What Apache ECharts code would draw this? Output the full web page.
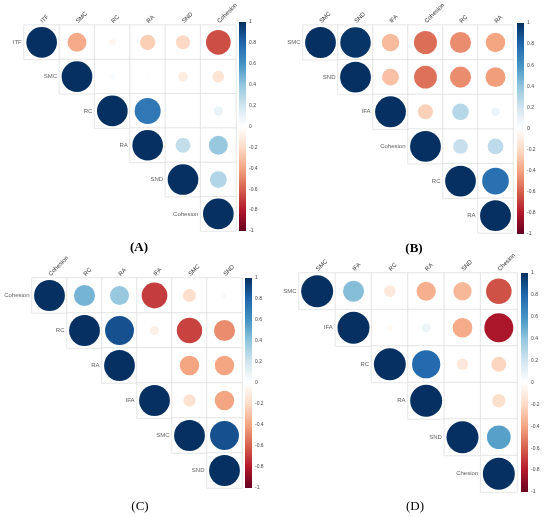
<!DOCTYPE html>
<html><head><meta charset="utf-8">
<script src="https://cdn.jsdelivr.net/npm/echarts@6/dist/echarts.min.js"></script>
<style>html,body{margin:0;padding:0;background:#fff}#c{width:550px;height:517px}</style>
</head><body><div id="c"></div>
<script>
// Variables per panel
const varsA = ['ITF', 'SMC', 'RC', 'RA', 'SND', 'Cohesion'];
const varsB = ['SMC', 'SND', 'IFA', 'Cohesion', 'RC', 'RA'];
const varsC = ['Cohesion', 'RC', 'RA', 'IFA', 'SMC', 'SND'];
const varsD = ['SMC', 'IFA', 'RC', 'RA', 'SND', 'Chesion'];

// Upper-triangle correlation rows (row i lists columns i..5)
const corrA = [
  [1, -0.38, -0.05, -0.25, -0.21, -0.65],
  [1, 0.03, -0.01, -0.10, -0.15],
  [1, 0.72, 0.0, 0.09],
  [1, 0.24, 0.38],
  [1, 0.30],
  [1]
];
const corrB = [
  [1, 0.98, -0.32, -0.56, -0.47, -0.40],
  [1, -0.30, -0.55, -0.47, -0.42],
  [1, -0.24, 0.29, 0.08],
  [1, 0.23, 0.26],
  [1, 0.75],
  [1]
];
const corrC = [
  [1, 0.47, 0.38, -0.70, -0.18, 0.03],
  [1, 0.88, -0.09, -0.68, -0.47],
  [1, 0.0, -0.40, -0.40],
  [1, -0.16, -0.40],
  [1, 0.88],
  [1]
];
const corrD = [
  [1, 0.43, -0.13, -0.36, -0.33, -0.64],
  [1, -0.04, 0.08, -0.38, -0.82],
  [1, 0.78, -0.13, -0.22],
  [1, 0.0, -0.18],
  [1, 0.55],
  [1]
];
const panelLabels = ['(A)', '(B)', '(C)', '(D)'];
const colorbarTicks = [-1, -0.8, -0.6, -0.4, -0.2, 0, 0.2, 0.4, 0.6, 0.8, 1];

const RdBu = ['#67001F', '#B2182B', '#D6604D', '#F4A582', '#FDDBC7', '#FFFFFF',
              '#D1E5F0', '#92C5DE', '#4393C3', '#2166AC', '#053061'];

// Layout (pixels)
const layout = [
  {grid: [24, 22, 212, 209], bar: [239, 22, 7, 209], label: [139, 248], bold: true},
  {grid: [303, 22, 210, 211], bar: [517, 23, 7, 211], label: [414, 249], bold: true},
  {grid: [32, 278, 210, 210], bar: [245, 278, 7, 210], label: [140, 507], bold: false},
  {grid: [299, 273, 218, 219], bar: [521, 273, 7, 219], label: [415, 507], bold: false}
];

const panels = [[varsA, corrA], [varsB, corrB], [varsC, corrC], [varsD, corrD]];

const chart = echarts.init(document.getElementById('c'));
const grids = [], xAxes = [], yAxes = [], series = [], circleIdx = [], graphics = [];
const labelColor = '#333';
const fontFam = 'Liberation Sans, Arial, sans-serif';

panels.forEach(([vars, corr], p) => {
  const L = layout[p];
  const [gl, gt, gw, gh] = L.grid;
  const cell = Math.min(gw, gh) / vars.length;
  grids[p] = {left: gl, top: gt, width: gw, height: gh, containLabel: false};
  xAxes[p] = {
    type: 'category', gridIndex: p, data: vars, position: 'top',
    axisLine: {show: false}, axisTick: {show: false}, splitLine: {show: false},
    axisLabel: {rotate: -45, fontSize: 6, color: labelColor, margin: 3, fontFamily: fontFam, interval: 0}
  };
  yAxes[p] = {
    type: 'category', gridIndex: p, data: vars, inverse: true,
    axisLine: {show: false}, axisTick: {show: false}, axisLabel: {show: false}, splitLine: {show: false}
  };
  const cells = [], pts = [], diag = [];
  corr.forEach((row, i) => {
    row.forEach((v, k) => {
      const j = i + k;
      cells.push([j, i, v]);
      pts.push([j, i, v]);
    });
    diag.push([i, i, vars[i]]);
  });
  series.push({
    type: 'heatmap', xAxisIndex: p, yAxisIndex: p, data: cells, silent: true,
    itemStyle: {color: '#ffffff', borderColor: '#e0e0e0', borderWidth: 0.8},
    label: {show: false}, emphasis: {disabled: true}
  });
  circleIdx.push(series.length);
  series.push({
    type: 'scatter', xAxisIndex: p, yAxisIndex: p, data: pts, silent: true,
    symbol: 'circle',
    symbolSize: (val) => cell * 0.88 * Math.sqrt(Math.abs(val[2])),
    itemStyle: {opacity: 1}
  });
  series.push({
    type: 'scatter', xAxisIndex: p, yAxisIndex: p, data: diag, silent: true,
    symbolSize: 1, itemStyle: {color: 'rgba(0,0,0,0)'},
    label: {show: true, position: 'left', distance: cell / 2 + 2, fontSize: 6,
            color: labelColor, fontFamily: fontFam, formatter: (d) => d.value[2]}
  });

  graphics.push({
    type: 'text',
    x: L.label[0], y: L.label[1],
    style: {text: panelLabels[p], textAlign: 'center', textVerticalAlign: 'middle',
            font: (L.bold ? 'bold ' : '') + '13px "Liberation Serif", "Times New Roman", serif', fill: '#000'}
  });
});

// colorbar grids/axes appended after matrix grids
layout.forEach((L, p) => {
  const [bl, bt, bw, bh] = L.bar;
  const stops = RdBu.map((c, k) => ({offset: 1 - k / (RdBu.length - 1), color: c}));
  grids[4 + p] = {left: bl, top: bt, width: bw, height: bh, show: true, borderWidth: 0,
    backgroundColor: new echarts.graphic.LinearGradient(0, 0, 0, 1, stops.slice().reverse())};
  xAxes[4 + p] = {type: 'value', gridIndex: 4 + p, show: false, min: 0, max: 1};
  yAxes[4 + p] = {
    type: 'value', gridIndex: 4 + p, position: 'right', min: colorbarTicks[0],
    max: colorbarTicks[colorbarTicks.length - 1], interval: 0.2,
    axisLine: {show: false}, axisTick: {show: false}, splitLine: {show: false},
    axisLabel: {fontSize: 5, color: '#444', margin: 3, fontFamily: fontFam,
      formatter: (v) => String(Math.round(v * 10) / 10)}
  };
});

chart.setOption({
  animation: false,
  backgroundColor: '#ffffff',
  grid: grids, xAxis: xAxes, yAxis: yAxes,
  visualMap: {
    type: 'continuous', show: false, min: -1, max: 1, dimension: 2,
    seriesIndex: circleIdx, inRange: {color: RdBu}
  },
  series: series,
  graphic: graphics
});
</script></body></html>
